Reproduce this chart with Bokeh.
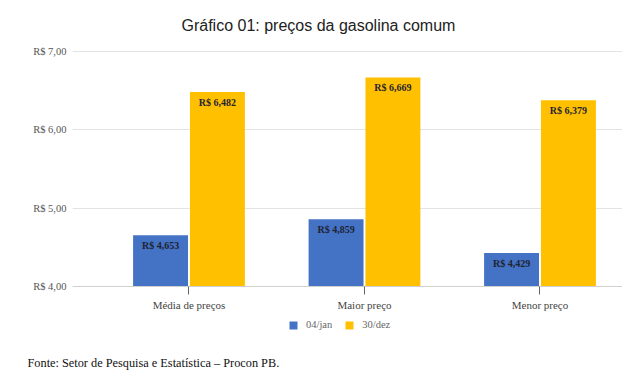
from bokeh.plotting import figure
from bokeh.models import (ColumnDataSource, Range1d, FixedTicker, Legend,
                          LegendItem, Title)
from bokeh.core.properties import value
from bokeh.embed import file_html
from bokeh.resources import INLINE

categories = ["Média de preços", "Maior preço", "Menor preço"]
series_names = ["04/jan", "30/dez"]
jan_values = [4.653, 4.859, 4.429]
dez_values = [6.482, 6.669, 6.379]
y_ticks = [4.0, 5.0, 6.0, 7.0]
y_tick_labels = ["R$ 4,00", "R$ 5,00", "R$ 6,00", "R$ 7,00"]
title_text = "Gráfico 01: preços da gasolina comum"
source_text = "Fonte: Setor de Pesquisa e Estatística – Procon PB."

BLUE = "#4472C4"
YELLOW = "#FFC000"
SERIF = "Liberation Serif"
BASE = 4.0

def fmt(v):
    return "R$ " + f"{v:.3f}".replace(".", ",")

bar_w = 0.313
off = 0.162
xs = list(range(len(categories)))

src_jan = ColumnDataSource(dict(x=[i - off for i in xs], top=jan_values,
                                lab=[fmt(v) for v in jan_values]))
src_dez = ColumnDataSource(dict(x=[i + off for i in xs], top=dez_values,
                                lab=[fmt(v) for v in dez_values]))

p = figure(width=622, height=386, output_backend="svg", toolbar_location=None,
           x_range=Range1d(-0.6638, 2.4701), y_range=Range1d(3.362, 7.013),
           min_border_left=72, min_border_right=0, min_border_top=50,
           min_border_bottom=50)
p.outline_line_color = None
p.background_fill_color = "white"
p.border_fill_color = "white"

p.title.text = title_text
p.title.align = "left"
p.title.offset = 109
p.title.vertical_align = "top"
p.title.standoff = 30
p.title.text_font = "Liberation Sans"
p.title.text_font_size = "16px"
p.title.text_font_style = "normal"
p.title.text_color = "#222222"

r1 = p.vbar(x="x", top="top", bottom=BASE, width=bar_w, source=src_jan,
            fill_color=BLUE, line_color=None)
r2 = p.vbar(x="x", top="top", bottom=BASE, width=bar_w, source=src_dez,
            fill_color=YELLOW, line_color=None)

for src in (src_jan, src_dez):
    p.text(x="x", y="top", text="lab", source=src, text_align="center",
           text_baseline="top", y_offset=5, text_font=value(SERIF),
           text_font_style="bold", text_font_size="10px", text_color="#1f2433")

# axes
p.xaxis.fixed_location = BASE
p.xaxis.ticker = FixedTicker(ticks=xs)
p.xaxis.major_label_overrides = {i: c for i, c in zip(xs, categories)}
p.xaxis.major_label_text_font = SERIF
p.xaxis.major_label_text_font_size = "11px"
p.xaxis.major_label_text_color = "#444444"
p.xaxis.major_tick_out = 8
p.xaxis.major_tick_in = 0
p.xaxis.major_tick_line_color = "#666666"
p.xaxis.minor_tick_line_color = None
p.xaxis.axis_line_color = "#d0d0d0"
p.xaxis.major_label_standoff = 4

p.yaxis.ticker = FixedTicker(ticks=y_ticks)
p.yaxis.major_label_overrides = {t: l for t, l in zip(y_ticks, y_tick_labels)}
p.yaxis.major_label_text_font = SERIF
p.yaxis.major_label_text_font_size = "10.5px"
p.yaxis.major_label_text_color = "#555555"
p.yaxis.axis_line_color = None
p.yaxis.major_tick_out = 0
p.yaxis.major_tick_in = 0
p.yaxis.major_tick_line_color = None
p.yaxis.minor_tick_line_color = None
p.yaxis.major_label_standoff = 6

p.xgrid.grid_line_color = None
p.ygrid.ticker = FixedTicker(ticks=y_ticks)
p.ygrid.grid_line_color = "#e3e3e3"
p.ygrid.grid_line_width = 1

legend = Legend(items=[LegendItem(label=series_names[0], renderers=[r1]),
                       LegendItem(label=series_names[1], renderers=[r2])],
                orientation="horizontal", location=(216, 6),
                label_text_font=SERIF, label_text_font_size="10.5px",
                label_text_color="#666666", glyph_width=10, glyph_height=10,
                label_standoff=8, spacing=12, border_line_color=None,
                background_fill_alpha=0, padding=0, margin=0, label_height=10)
p.add_layout(legend)

p.add_layout(Title(text=source_text, align="left", offset=-45, standoff=34,
                   text_font=SERIF, text_font_size="12.3px",
                   text_font_style="normal", text_color="#111111"), "below")

open("out.html", "w").write(file_html(p, INLINE))
